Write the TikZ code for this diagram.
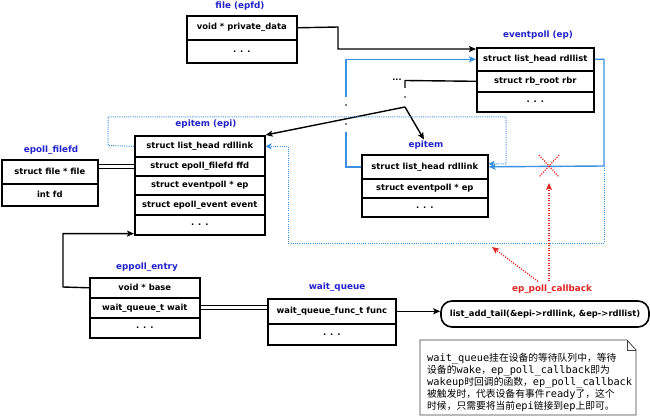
\documentclass[tikz,border=0pt]{standalone}
\usepackage{fontspec}
\setmainfont{DejaVu Sans}
\setmonofont{DejaVu Sans Mono}
\newfontfamily\cjk{Noto Sans CJK SC}[Scale=0.95]
\usetikzlibrary{arrows.meta,calc,backgrounds}
\definecolor{lblblue}{RGB}{35,35,205}
\definecolor{lnblue}{RGB}{58,145,225}
\definecolor{cbred}{RGB}{225,35,35}
\newcommand{\zh}[1]{{\cjk #1}}
\begin{document}
\begin{tikzpicture}[x=1pt,y=-1pt,
  cell/.style={draw=black, line width=1.6pt, inner sep=0pt, anchor=north west,
    font=\fontsize{8.4}{10}\selectfont\bfseries, text=black},
  lbl/.style={font=\fontsize{8.8}{10}\selectfont\bfseries, text=lblblue, inner sep=0pt},
  conn/.style={line width=1.4pt, black},
  arr/.style={conn, -{Stealth[length=7pt,width=6pt,inset=1.5pt]}},
  bline/.style={line width=1.4pt, lnblue},
  barr/.style={bline, -{Stealth[length=7pt,width=6pt,inset=1.5pt]}},
  bdot/.style={line width=1pt, lnblue, dash pattern=on 1pt off 1.2pt},
  bdarr/.style={bdot, -{Stealth[length=6pt,width=6pt,inset=1.5pt]}},
  rdot/.style={line width=1.2pt, cbred, dash pattern=on 1.2pt off 1.3pt},
  rdarr/.style={rdot, -{Stealth[length=7pt,width=6pt,inset=1.5pt]}},
  dbl/.style={line width=1pt, double distance=3.2pt, black},
]
\useasboundingbox (0,0) rectangle (650,417);

% labels
\node[lbl] (flab) at (240,6) {file (epfd)};
\node[lbl] (elab) at (538,35) {eventpoll (ep)};
\node[lbl] (ilab) at (206,124) {epitem (epi)};
\node[lbl] (fflab) at (51,150) {epoll\_filefd};
\node[lbl] (jlab) at (426,145) {epitem};
\node[lbl] (plab) at (147,267) {eppoll\_entry};
\node[lbl] (wlab) at (337,287) {wait\_queue};
\node[lbl, text=cbred] (cb) at (552,289) {ep\_poll\_callback};

% file (epfd)
\node[cell, minimum width=110pt, minimum height=24pt] (fA) at (186,15) {void * private\_data};
\node[cell, minimum width=110pt, minimum height=23pt] (fB) at (186,39) {. . .};

% eventpoll
\node[cell, minimum width=117pt, minimum height=23pt] (eA) at (476,47) {struct list\_head rdllist};
\node[cell, minimum width=117pt, minimum height=21pt] (eB) at (476,70) {struct rb\_root rbr};
\node[cell, minimum width=117pt, minimum height=20pt] (eC) at (476,91) {. . .};

% epitem (epi)
\node[cell, minimum width=130pt, minimum height=21pt] (iA) at (134,135) {struct list\_head rdllink};
\node[cell, minimum width=130pt, minimum height=19pt] (iB) at (134,156) {struct epoll\_filefd ffd};
\node[cell, minimum width=130pt, minimum height=19pt] (iC) at (134,175) {struct eventpoll * ep};
\node[cell, minimum width=130pt, minimum height=20pt] (iD) at (134,194) {struct epoll\_event event};
\node[cell, minimum width=130pt, minimum height=20pt] (iE) at (134,214) {. . .};

% epoll_filefd
\node[cell, minimum width=96pt, minimum height=24pt] (ffA) at (1,159) {struct file * file};
\node[cell, minimum width=96pt, minimum height=22pt] (ffB) at (1,183) {int fd};

% lower epitem
\node[cell, minimum width=126pt, minimum height=24pt] (jA) at (361,154) {struct list\_head rdllink};
\node[cell, minimum width=126pt, minimum height=19pt] (jB) at (361,178) {struct eventpoll * ep};
\node[cell, minimum width=126pt, minimum height=19pt] (jC) at (361,197) {. . .};

% eppoll_entry
\node[cell, minimum width=110pt, minimum height=20pt] (pA) at (89,277) {void * base};
\node[cell, minimum width=110pt, minimum height=20pt] (pB) at (89,297) {wait\_queue\_t wait};
\node[cell, minimum width=110pt, minimum height=20pt] (pC) at (89,317) {. . .};

% wait_queue
\node[cell, minimum width=128pt, minimum height=25pt] (wA) at (267,298) {wait\_queue\_func\_t func};
\node[cell, minimum width=128pt, minimum height=21pt] (wB) at (267,323) {. . .};

% list_add_tail
\node[draw=black, line width=1.6pt, rounded corners=11pt, minimum width=208pt, minimum height=26pt,
  inner sep=0pt, font=\fontsize{8.4}{10}\selectfont\bfseries] (lat) at (545,314)
  {list\_add\_tail(\&epi->rdllink, \&ep->rdllist)};

% background: white and double lines
\begin{pgfonlayer}{background}
\fill[white] (0,0) rectangle (650,417);
\draw[dbl] (ffA.east |- iB.west) -- (iB.west);
\draw[dbl] (pB.east) -- (pB.east -| wA.west);
\end{pgfonlayer}

% file -> eventpoll
\draw[arr] (fA.east) -- (338,27) |- ([yshift=-2pt]eA.north west);

% rb tree from rbr
\node[font=\fontsize{8}{9}\selectfont\bfseries, inner sep=0pt] (rdots) at (397,80) {...};
\draw[conn] (eB.west) -- (405,80.5) -- (405,88);
\fill (405,97) circle (0.8pt);
\coordinate (br) at (405,107);
\draw[arr] (br) -- (iA.north east);
\draw[arr] (br) -- ([xshift=-2pt,yshift=1pt]jlab.north);

% blue solid list
\coordinate (bgapTop) at (346,97);
\coordinate (bgapBot) at (346,132);
\draw[bline] (jA.west) -| (bgapBot);
\draw[barr] (bgapTop) |- (eA.west);
\fill (346,105) circle (0.8pt);
\fill (346,124) circle (0.8pt);
\coordinate (rc) at (604,166);
\draw[barr] (eA.east) -| (rc) -- (jA.east);

% blue dotted list
\draw[bdarr] (iA.west) -- (108,145.5) -- (108,117) -- (506,117) |- ([yshift=3pt]jA.east);
\draw[bdarr] (rc) -- (604,243) -- (288,243) |- (iA.east);

% red cross and callback arrows
\coordinate (xc) at (549,166);
\draw[rdot] ($(xc)+(-10,-11)$) -- ($(xc)+(10,11)$);
\draw[rdot] ($(xc)+(10,-11)$) -- ($(xc)+(-10,11)$);
\draw[rdarr] ([yshift=3pt]cb.north -| xc) -- ($(xc)+(0,17)$);
\coordinate (dtip) at (492,247);
\draw[rdarr] ([xshift=-14pt,yshift=3pt]cb.north) -- (dtip);

% eppoll_entry -> epi
\draw[arr] (pA.west) -- (63,287) |- ([yshift=2pt]iE.south west);

% wait_queue -> list_add_tail
\draw[arr] (wA.east) -- (wA.east -| lat.west);

% note
\draw[line width=0.8pt, black!75] (420,415) -- (420,340) -- (627,340) -- (636,350) -- (636,415) -- cycle;
\draw[line width=0.8pt, black!75] (627,340) -- (627,350) -- (636,350);
\node[anchor=north west, inner sep=0pt, align=left, text=black,
  font=\ttfamily\fontsize{10.3}{12}\selectfont] (note) at (427,353.5)
  {wait\_queue\zh{挂在设备的等待队列中，等待}\\
   \zh{设备的}wake\zh{，}ep\_poll\_callback\zh{即为}\\
   wakeup\zh{时回调的函数，}ep\_poll\_callback\\
   \zh{被触发时，代表设备有事件}ready\zh{了，这个}\\
   \zh{时候，只需要将当前}epi\zh{链接到}ep\zh{上即可。}};
\end{tikzpicture}
\end{document}
